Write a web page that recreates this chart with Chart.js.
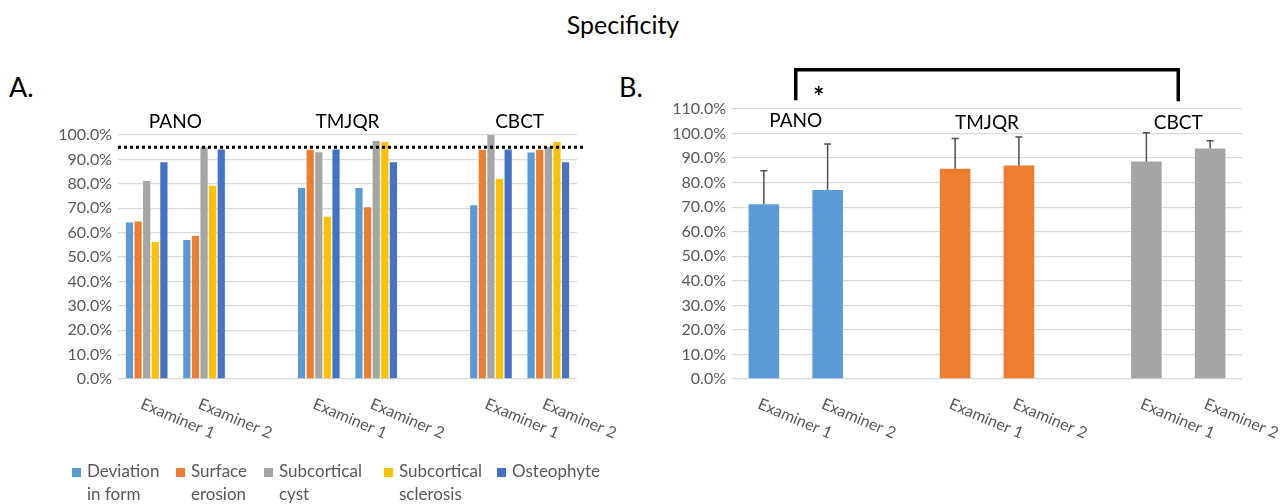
<!DOCTYPE html>
<html>
  <head>
    <meta http-equiv="content-type" content="text/html; charset=utf-8" />
    <title>Specificity</title>
    <style>
      body { margin: 0; background: #fff; font-family: Lato, sans-serif; }
      #page { position: relative; width: 1288px; height: 504px; overflow: hidden; }
      .abs { position: absolute; }
      #title { left: 0; width: 1246px; top: 9px; text-align: center; font-size: 25px; color: #000; }
      .panel { font-size: 27px; color: #000; top: 70px; }
      #legend { left: 72px; top: 459px; font-size: 17px; color: #595959; line-height: 23px; }
      .item { position: absolute; top: 0; white-space: nowrap; }
      .box { position: absolute; left: 0; top: 9px; width: 9px; height: 9px; }
      .lbl { position: absolute; left: 15px; top: 0; }
    </style>
  </head>

  <body>
    <div id="page">
      <div id="title" class="abs">Specificity</div>
      <div class="abs panel" style="left: 9px">A.</div>
      <div class="abs panel" style="left: 619px">B.</div>
      <div class="abs" style="left: 0; top: 0; width: 620px; height: 504px">
        <canvas id="chartA"></canvas>
      </div>
      <div class="abs" style="left: 620px; top: 0; width: 668px; height: 504px">
        <canvas id="chartB"></canvas>
      </div>
      <div id="legend" class="abs"></div>
    </div>
    <script src="https://cdn.jsdelivr.net/npm/chart.js@4"></script>
    <script>
      const groups = ["PANO", "TMJQR", "CBCT"];
      const categories = ["Examiner 1", "Examiner 2", "", "Examiner 1", "Examiner 2", "", "Examiner 1", "Examiner 2"];

      // panel A: specificity per finding (%)
      const findings = [["Deviation", "in form"], ["Surface", "erosion"], ["Subcortical", "cyst"], ["Subcortical", "sclerosis"], ["Osteophyte"]];
      const deviation = [64.1, 57.0, null, 78.3, 78.3, null, 71.2, 92.8];
      const surface = [64.5, 58.6, null, 94.0, 70.4, null, 94.0, 94.0];
      const cyst = [81.1, 95.0, null, 92.9, 97.5, null, 100.0, 95.1];
      const sclerosis = [56.1, 79.2, null, 66.5, 97.1, null, 82.0, 97.1];
      const osteophyte = [88.8, 94.1, null, 94.1, 88.8, null, 94.1, 88.8];
      const reference = 95;

      // panel B: mean specificity and error (%)
      const means = [71.2, 77.0, null, 85.7, 87.0, null, 88.6, 93.9];
      const errors = [13.6, 18.7, null, 12.3, 11.6, null, 11.7, 3.2];

      const colors = ["#5B9BD5", "#ED7D31", "#A5A5A5", "#FFC000", "#4472C4"];
      const modalityColors = ["#5B9BD5", "#5B9BD5", null, "#ED7D31", "#ED7D31", null, "#A5A5A5", "#A5A5A5"];
      const textGrey = "#595959";
      const font = "Lato, sans-serif";

      // legend for panel A
      const legendX = [0, 104, 192, 312, 425];
      const legend = document.getElementById("legend");
      findings.forEach((name, i) => {
        const item = document.createElement("div");
        item.className = "item";
        item.style.left = legendX[i] + "px";
        item.innerHTML = `<div class="box" style="background:${colors[i]}"></div><div class="lbl">${name.join("<br>")}</div>`;
        legend.appendChild(item);
      });

      // slanted examiner labels under the axis
      const slantLabels = {
        id: "slantLabels",
        afterDraw(chart) {
          const ctx = chart.ctx;
          const x = chart.scales.x;
          ctx.save();
          ctx.font = "16px " + font;
          ctx.fillStyle = textGrey;
          ctx.textAlign = "left";
          ctx.textBaseline = "top";
          categories.forEach((c, i) => {
            if (!c) return;
            ctx.save();
            ctx.translate(x.getPixelForValue(i) - 2, chart.chartArea.bottom + 17);
            ctx.rotate((23 * Math.PI) / 180);
            ctx.fillText(c, 0, 0);
            ctx.restore();
          });
          ctx.restore();
        },
      };

      // modality names above each pair of bars
      function groupLabels(yPos) {
        return {
          id: "groupLabels",
          afterDraw(chart) {
            const ctx = chart.ctx;
            const x = chart.scales.x;
            ctx.save();
            ctx.font = "19px " + font;
            ctx.fillStyle = "#000";
            ctx.textAlign = "center";
            ctx.textBaseline = "middle";
            groups.forEach((g, i) => {
              const mid = (x.getPixelForValue(i * 3) + x.getPixelForValue(i * 3 + 1)) / 2;
              ctx.fillText(g, mid, yPos[i]);
            });
            ctx.restore();
          },
        };
      }

      const refLine = {
        id: "refLine",
        afterDatasetsDraw(chart) {
          const ctx = chart.ctx;
          const y = chart.scales.y.getPixelForValue(reference);
          ctx.save();
          ctx.strokeStyle = "#000";
          ctx.lineWidth = 3;
          ctx.setLineDash([3, 3]);
          ctx.beginPath();
          ctx.moveTo(chart.chartArea.left, y);
          ctx.lineTo(chart.chartArea.right + 7, y);
          ctx.stroke();
          ctx.restore();
        },
      };

      const errorBars = {
        id: "errorBars",
        afterDatasetsDraw(chart) {
          const ctx = chart.ctx;
          const y = chart.scales.y;
          const meta = chart.getDatasetMeta(0);
          ctx.save();
          ctx.strokeStyle = "#505050";
          ctx.lineWidth = 1.5;
          means.forEach((m, i) => {
            if (m === null) return;
            const bx = meta.data[i].x;
            const top = y.getPixelForValue(m + errors[i]);
            ctx.beginPath();
            ctx.moveTo(bx, y.getPixelForValue(m));
            ctx.lineTo(bx, top);
            ctx.moveTo(bx - 3.5, top);
            ctx.lineTo(bx + 3.5, top);
            ctx.stroke();
          });
          ctx.restore();
        },
      };

      const bracket = {
        id: "bracket",
        afterDraw(chart) {
          const ctx = chart.ctx;
          const x = chart.scales.x;
          const y = chart.scales.y;
          const left = (x.getPixelForValue(0) + x.getPixelForValue(1)) / 2;
          const right = (x.getPixelForValue(6) + x.getPixelForValue(7)) / 2;
          const top = y.getPixelForValue(126);
          ctx.save();
          ctx.strokeStyle = "#000";
          ctx.lineWidth = 3.5;
          ctx.beginPath();
          ctx.moveTo(left, y.getPixelForValue(113.6));
          ctx.lineTo(left, top);
          ctx.lineTo(right, top);
          ctx.lineTo(right, y.getPixelForValue(113.2));
          ctx.stroke();
          ctx.font = "bold 26px " + font;
          ctx.fillStyle = "#000";
          ctx.textAlign = "center";
          ctx.textBaseline = "middle";
          ctx.fillText("*", left + 23, y.getPixelForValue(114.6));
          ctx.restore();
        },
      };

      function yAxis(max, width) {
        return {
          min: 0,
          max: max,
          afterFit: (s) => { s.width = width; },
          border: { display: false },
          grid: { color: "#D9D9D9", lineWidth: 1.3, drawTicks: false },
          ticks: {
            stepSize: 10,
            padding: 6,
            color: textGrey,
            font: { family: font, size: 16 },
            callback: (v) => v.toFixed(1) + "%",
          },
        };
      }

      new Chart("chartA", {
        type: "bar",
        data: {
          labels: categories,
          datasets: [deviation, surface, cyst, sclerosis, osteophyte].map((d, i) => ({
            label: findings[i].join(" "),
            data: d,
            backgroundColor: colors[i],
            categoryPercentage: 0.75,
            barPercentage: 0.84,
          })),
        },
        options: {
          responsive: true,
          maintainAspectRatio: false,
          animation: false,
          layout: { padding: { top: 135, bottom: 125, left: 0, right: 43 } },
          plugins: { legend: { display: false }, tooltip: { enabled: false } },
          scales: {
            x: { display: false, ticks: { autoSkip: false } },
            y: yAxis(100, 118),
          },
        },
        plugins: [refLine, slantLabels, groupLabels([122, 122, 122])],
      });

      new Chart("chartB", {
        type: "bar",
        data: {
          labels: categories,
          datasets: [
            {
              label: "Specificity",
              data: means,
              backgroundColor: modalityColors,
              categoryPercentage: 1,
              barPercentage: 0.48,
            },
          ],
        },
        options: {
          responsive: true,
          maintainAspectRatio: false,
          animation: false,
          layout: { padding: { top: 109, bottom: 125, left: 0, right: 46 } },
          plugins: { legend: { display: false }, tooltip: { enabled: false } },
          scales: {
            x: { display: false, ticks: { autoSkip: false } },
            y: yAxis(110, 112),
          },
        },
        plugins: [errorBars, slantLabels, groupLabels([121, 123, 123]), bracket],
      });
    </script>
  </body>
</html>
